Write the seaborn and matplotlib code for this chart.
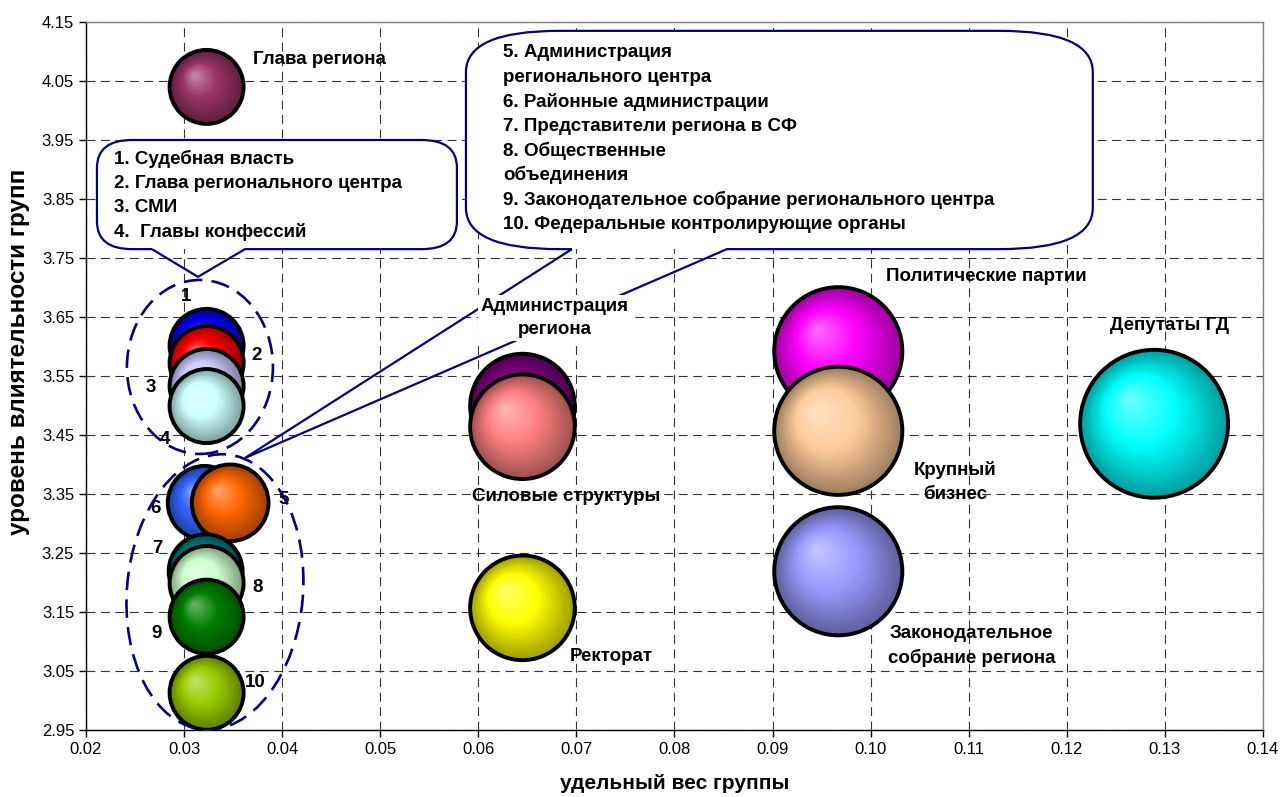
import numpy as np
import pandas as pd
import matplotlib
matplotlib.use("Agg")
import matplotlib.pyplot as plt
import matplotlib.transforms as mtransforms
from matplotlib.path import Path
from matplotlib.patches import PathPatch, Ellipse
from matplotlib.colors import to_rgb
import seaborn as sns

sns.set_style("white")
plt.rcParams['font.family'] = ['Liberation Sans', 'DejaVu Sans']

# --- данные (порядок = порядок отрисовки) ---
groups = ["Глава региона", "Судебная власть", "Глава регионального центра", "СМИ",
          "Главы конфессий", "Районные администрации", "Администрация регионального центра",
          "Представители региона в СФ", "Общественные объединения",
          "Законодательное собрание регионального центра", "Федеральные контролирующие органы",
          "Администрация региона", "Силовые структуры", "Ректорат", "Политические партии",
          "Крупный бизнес", "Законодательное собрание региона", "Депутаты ГД"]
weight = [0.0323, 0.0323, 0.0323, 0.0323, 0.0323, 0.0321, 0.0347, 0.0322, 0.0323, 0.0323,
          0.0323, 0.0645, 0.0645, 0.0645, 0.0967, 0.0967, 0.0967, 0.1289]
influence = [4.040, 3.601, 3.572, 3.533, 3.499, 3.335, 3.335, 3.219, 3.199, 3.142,
             3.013, 3.499, 3.464, 3.157, 3.592, 3.457, 3.219, 3.469]
colors = ["#993366", "#0000FF", "#FF0000", "#CCCCFF", "#CCFFFF", "#3366FF", "#FF6600",
          "#008080", "#CCFFCC", "#008000", "#99CC00", "#800080", "#FF8080", "#FFFF00",
          "#FF00FF", "#FFCC99", "#9999FF", "#00FFFF"]

x_ticks = np.arange(0.02, 0.1401, 0.01)
y_ticks = np.arange(2.95, 4.1501, 0.1)

df = pd.DataFrame({"group": groups, "weight": weight, "influence": influence, "color": colors})

NAVY = "#000080"
SIZE_K = 88000  # площадь пузырька пропорциональна удельному весу
FS = 13.5

fig = plt.figure(figsize=(12.83, 7.97), dpi=100)
ax = fig.add_axes([0.067, 0.0841, 0.9174, 0.8883])
ax.set_xlim(0.02, 0.14)
ax.set_ylim(2.95, 4.15)
ax.set_xticks(x_ticks)
ax.set_yticks(y_ticks)
ax.set_xticklabels([f"{v:.2f}" for v in x_ticks])
ax.set_yticklabels([f"{v:.2f}" for v in y_ticks])
ax.tick_params(direction="out", length=5, width=1, color="black", labelcolor="black",
               labelsize=12, left=True, bottom=True)
ax.grid(True, color="#333333", linestyle=(0, (8, 5)), linewidth=0.8)
ax.set_axisbelow(True)
for side in ["left", "bottom"]:
    ax.spines[side].set_color("black")
    ax.spines[side].set_linewidth(1)
for side in ["top", "right"]:
    ax.spines[side].set_color("#808080")
    ax.spines[side].set_linewidth(1)

ax.set_xlabel("удельный вес группы", fontsize=15, fontweight="bold", va="center", color="black")
ax.set_ylabel("уровень влиятельности групп", fontsize=17.5, fontweight="bold", va="center",
              color="black")
ax.xaxis.set_label_coords(0.5, -0.075)
ax.yaxis.set_label_coords(-0.057, 0.534)

# --- пузырьки с объёмной заливкой ---
N = 30
for i, row in df.iterrows():
    z = 10 + 3 * i
    s = SIZE_K * row["weight"]
    r_pt = np.sqrt(s) / 2
    base = np.array(to_rgb(row["color"]))
    dark = base * 0.62
    light = base + (1 - base) * 0.38
    sns.scatterplot(x=[row["weight"]], y=[row["influence"]], s=s, color=tuple(dark),
                    linewidth=0, ax=ax, zorder=z, legend=False)
    for k in range(1, N):
        t = k / (N - 1)
        rad = r_pt * (1 - 0.93 * t)
        off = t * 0.33 * r_pt
        if t < 0.55:
            c = dark + (base - dark) * (t / 0.55)
        else:
            c = base + (light - base) * ((t - 0.55) / 0.45)
        tr = ax.transData + mtransforms.ScaledTranslation(-off / 72, off / 72, fig.dpi_scale_trans)
        ax.scatter([row["weight"]], [row["influence"]], s=(2 * rad) ** 2, color=tuple(np.clip(c, 0, 1)),
                   linewidths=0, transform=tr, zorder=z + 1)
    ax.scatter([row["weight"]], [row["influence"]], s=s, facecolors="none", edgecolors="black",
               linewidths=2.8, zorder=z + 2)

# --- подписи ---
lab = dict(fontsize=FS, fontweight="bold", color="black", zorder=80)
ax.text(0.0370, 4.086, "Глава региона", ha="left", va="center", **lab)
for txt, x, y in [("1", 0.0302, 3.684), ("2", 0.0374, 3.584), ("3", 0.0266, 3.530),
                  ("4", 0.0281, 3.442), ("5", 0.0402, 3.340), ("6", 0.0271, 3.326),
                  ("7", 0.0273, 3.258), ("8", 0.0375, 3.191), ("9", 0.0272, 3.113),
                  ("10", 0.0373, 3.031)]:
    ax.text(x, y, txt, ha="center", va="center", **lab)
ax.text(0.0678, 3.648, "Администрация\nрегиона", ha="center", va="center", multialignment="center",
        bbox=dict(fc="white", ec="none", pad=2), linespacing=1.45, **lab)
ax.text(0.0690, 3.345, "Силовые структуры", ha="center", va="center", **lab)
ax.text(0.0736, 3.075, "Ректорат", ha="center", va="center", **lab)
ax.text(0.1118, 3.718, "Политические партии", ha="center", va="center", **lab)
ax.text(0.1305, 3.635, "Депутаты ГД", ha="center", va="center", **lab)
ax.text(0.1086, 3.370, "Крупный\nбизнес", ha="center", va="center", multialignment="center",
        linespacing=1.5, **lab)
ax.text(0.1103, 3.092, "Законодательное\nсобрание региона", ha="center", va="center",
        multialignment="center", linespacing=1.5, **lab)


# --- выноски ---
def callout(x0, x1, y0, y1, rx, ry, bl, br, tip, z=6):
    box = [(bl, y0), (x0 + rx, y0), (x0, y0), (x0, y0 + ry), (x0, y1 - ry), (x0, y1), (x0 + rx, y1),
           (x1 - rx, y1), (x1, y1), (x1, y1 - ry), (x1, y0 + ry), (x1, y0), (x1 - rx, y0), (br, y0)]
    codes = [Path.MOVETO, Path.LINETO, Path.CURVE3, Path.CURVE3, Path.LINETO, Path.CURVE3,
             Path.CURVE3, Path.LINETO, Path.CURVE3, Path.CURVE3, Path.LINETO, Path.CURVE3,
             Path.CURVE3, Path.LINETO]
    fill = PathPatch(Path(box + [(bl, y0)], codes + [Path.CLOSEPOLY]), fc="white", ec="none", zorder=z)
    outline = PathPatch(Path(box + [tip, (bl, y0)], codes + [Path.LINETO, Path.LINETO]),
                        fc="none", ec=NAVY, lw=1.6, zorder=z + 0.5, joinstyle="miter")
    ax.add_patch(fill)
    ax.add_patch(outline)


callout(0.02112, 0.05782, 3.765, 3.950, 0.0036, 0.047, 0.02673, 0.03621, (0.03142, 3.718))
callout(0.05874, 0.12265, 3.765, 4.135, 0.0095, 0.070, 0.06954, 0.08534, (0.03621, 3.411))

txt = dict(fontsize=FS, fontweight="bold", color="black", ha="left", va="center", zorder=80)
left_lines = ["1. Судебная власть", "2. Глава регионального центра", "3. СМИ", "4.  Главы конфессий"]
for k, line in enumerate(left_lines):
    ax.text(0.02285, 3.918 - k * 0.0415, line, **txt)
right_lines = ["5. Администрация", "регионального центра", "6. Районные администрации",
               "7. Представители региона в СФ", "8. Общественные", "объединения",
               "9. Законодательное собрание регионального центра",
               "10. Федеральные контролирующие органы"]
for k, line in enumerate(right_lines):
    ax.text(0.0625, 4.098 - k * 0.0415, line, **txt)

# --- пунктирные овалы ---
for cx, cy, w, h, ang in [(0.03162, 3.5653, 1.46, 1.74, 0), (0.03315, 3.184, 1.76, 2.76, -5)]:
    tr = fig.dpi_scale_trans + mtransforms.ScaledTranslation(cx, cy, ax.transData)
    ax.add_patch(Ellipse((0, 0), w, h, angle=ang, transform=tr, fill=False, ec=NAVY,
                         lw=1.9, ls=(0, (7, 3.5)), zorder=90))

fig.savefig("out.png", dpi=100)
